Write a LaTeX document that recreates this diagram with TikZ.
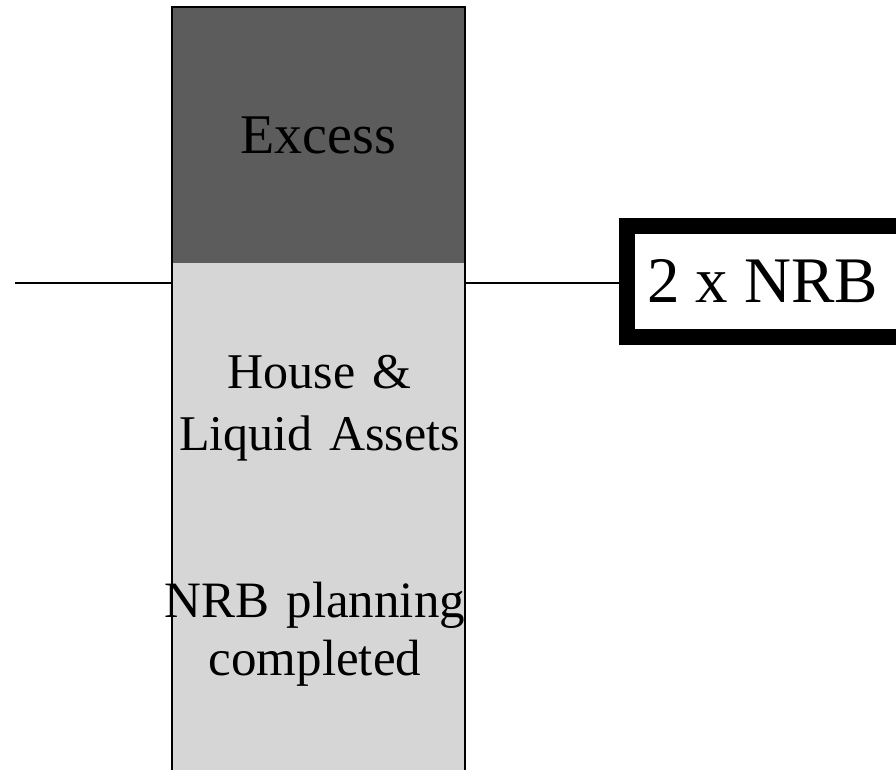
\documentclass[tikz,border=0pt]{standalone}
\usepackage{fontspec}
\setmainfont{Liberation Serif}
\definecolor{darkfill}{gray}{0.36}
\definecolor{lightfill}{gray}{0.84}
\begin{document}
\begin{tikzpicture}[x=1pt,y=-1pt,
  band/.style={rectangle, inner sep=0pt, minimum width=293pt, draw=none},
  body/.style={inner sep=0pt, align=center, text width=340pt},
  conn/.style={draw=black, line width=2pt}
]
\useasboundingbox (0,0) rectangle (896,770);
% column bands
\node[band, fill=darkfill, minimum height=256pt,
      font=\fontsize{56}{60}\selectfont] (excess) at (318.5,135) {Excess};
\node[band, fill=lightfill, minimum height=527pt] (light) at (318.5,526.5) {};
\draw[line width=2pt] (excess.north west) rectangle (light.south east);
% texts in the light band
\node[body, anchor=base, font=\fontsize{50}{62}\selectfont] (house) at (319.5,388) {House \&\\Liquid Assets};
\node[body, anchor=base, font=\fontsize{51}{58}\selectfont] (plan) at (315,617) {NRB planning\\completed};
% NRB box
\node[draw=black, line width=16pt, fill=white, rectangle, inner sep=0pt,
      minimum width=320pt, minimum height=111pt, anchor=west] (nrb) at (619,281.5) {};
\node[anchor=base west, inner sep=0pt, font=\fontsize{65}{70}\selectfont] (nrbtext) at (647,302) {2 x NRB};
% connectors
\coordinate (lstart) at (15,283);
\draw[conn] (lstart) -- (lstart -| excess.west);
\draw[conn] (lstart -| excess.east) -- (lstart -| nrb.west);
\end{tikzpicture}
\end{document}
